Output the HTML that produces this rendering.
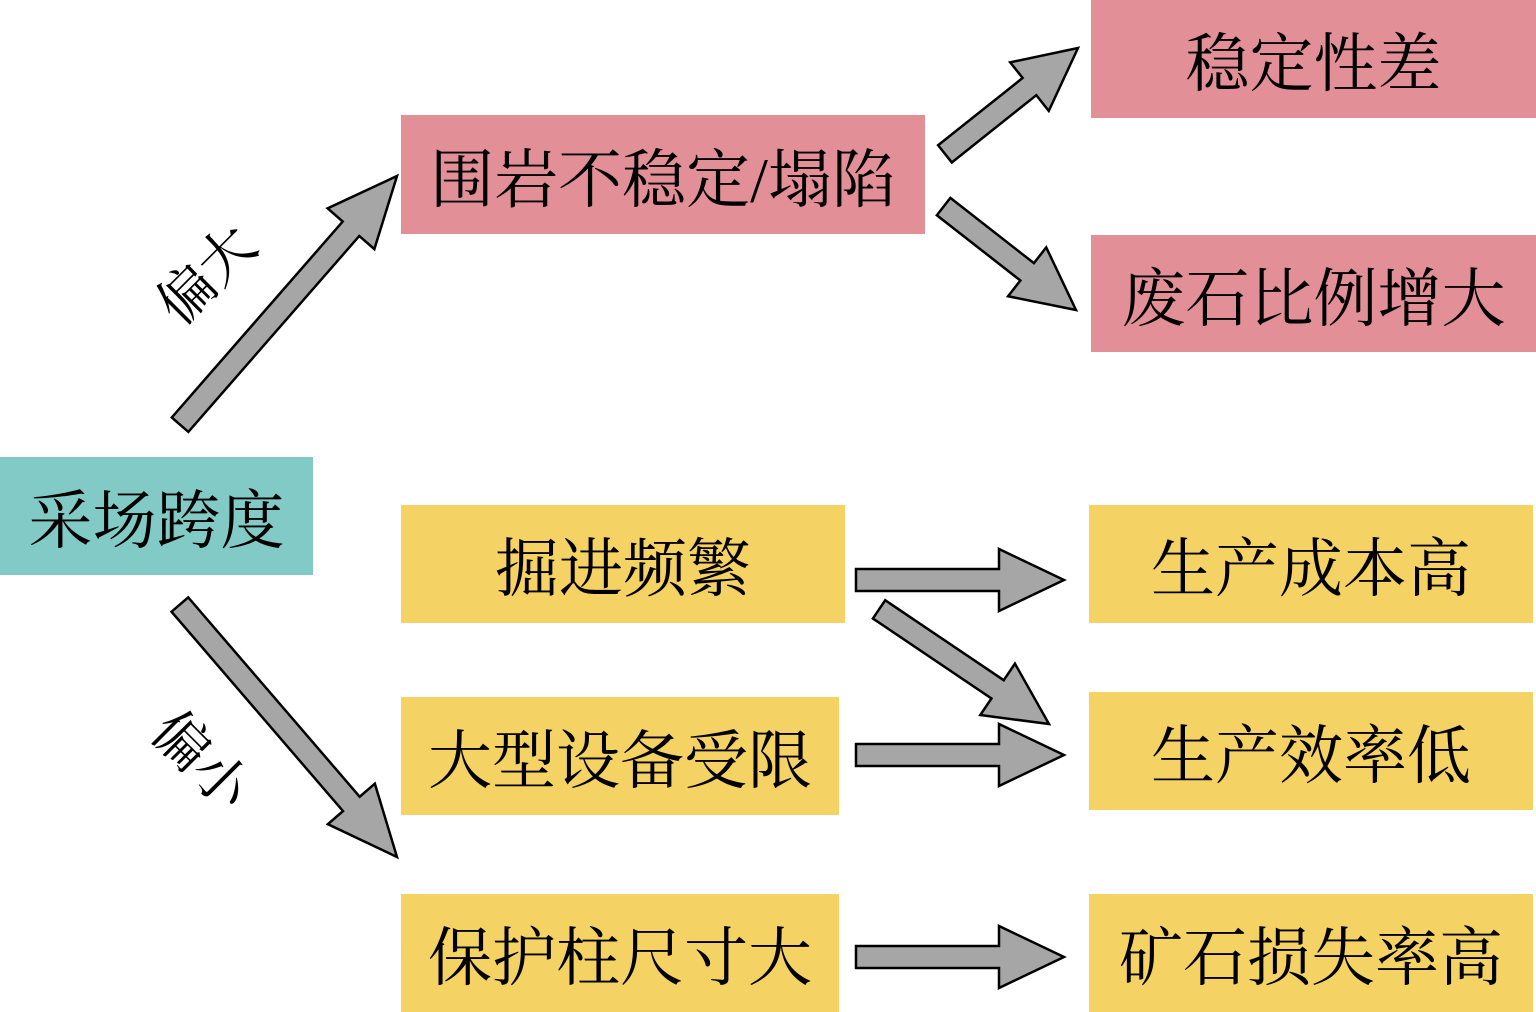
<!DOCTYPE html>
<html><head><meta charset="utf-8">
<style>
html,body{margin:0;padding:0;background:#fff;}
body{width:1536px;height:1012px;position:relative;overflow:hidden;font-family:"Liberation Serif","Noto Serif CJK SC",serif;}
.b{position:absolute;display:flex;align-items:center;justify-content:center;font-size:64px;color:#000;white-space:nowrap;}
.p{background:#E38F97;}
.y{background:#F5D264;}
.t{background:#82CAC6;}
svg{position:absolute;left:0;top:0;}
.l{position:absolute;font-size:56px;white-space:nowrap;}
</style></head><body>
<div class="b t" style="left:0;top:457px;width:313px;height:118px;">采场跨度</div>
<div class="b p" style="left:401px;top:115px;width:524px;height:119px;">围岩不稳定/塌陷</div>
<div class="b p" style="left:1091px;top:0;width:445px;height:118px;">稳定性差</div>
<div class="b p" style="left:1091px;top:235px;width:445px;height:117px;">废石比例增大</div>
<div class="b y" style="left:401px;top:505px;width:444px;height:118px;">掘进频繁</div>
<div class="b y" style="left:401px;top:697px;width:438px;height:118px;">大型设备受限</div>
<div class="b y" style="left:401px;top:894px;width:438px;height:118px;">保护柱尺寸大</div>
<div class="b y" style="left:1089px;top:505px;width:444px;height:118px;">生产成本高</div>
<div class="b y" style="left:1089px;top:692px;width:444px;height:118px;">生产效率低</div>
<div class="b y" style="left:1089px;top:894px;width:444px;height:118px;">矿石损失率高</div>
<div class="l" style="left:148px;top:232px;transform:rotate(-45deg);">偏大</div>
<div class="l" style="left:148px;top:718px;transform:rotate(45deg);">偏小</div>
<svg width="1536" height="1012">
<g fill="#A6A6A6" stroke="#000" stroke-width="2.5" stroke-linejoin="miter" stroke-miterlimit="3">
<polygon points="0,0 -70,31 -70,11 -330,11 -330,-11 -70,-11 -70,-31" transform="translate(397,176) rotate(-48.9)"/>
<polygon points="0,0 -70,31 -70,11 -333,11 -333,-11 -70,-11 -70,-31" transform="translate(397,857) rotate(49.3)"/>
<polygon points="0,0 -62,31 -62,11 -170,11 -170,-11 -62,-11 -62,-31" transform="translate(1078,48) rotate(-38.5)"/>
<polygon points="0,0 -62,31 -62,11 -168,11 -168,-11 -62,-11 -62,-31" transform="translate(1076,310) rotate(38)"/>
<polygon points="0,0 -65,31 -65,11 -208,11 -208,-11 -65,-11 -65,-31" transform="translate(1064,580)"/>
<polygon points="0,0 -65,31 -65,11 -208,11 -208,-11 -65,-11 -65,-31" transform="translate(1064,755)"/>
<polygon points="0,0 -65,31 -65,11 -208,11 -208,-11 -65,-11 -65,-31" transform="translate(1064,957)"/>
<polygon points="0,0 -62,31 -62,11 -205,11 -205,-11 -62,-11 -62,-31" transform="translate(1049,724) rotate(34)"/>
</g>
</svg>
</body></html>
